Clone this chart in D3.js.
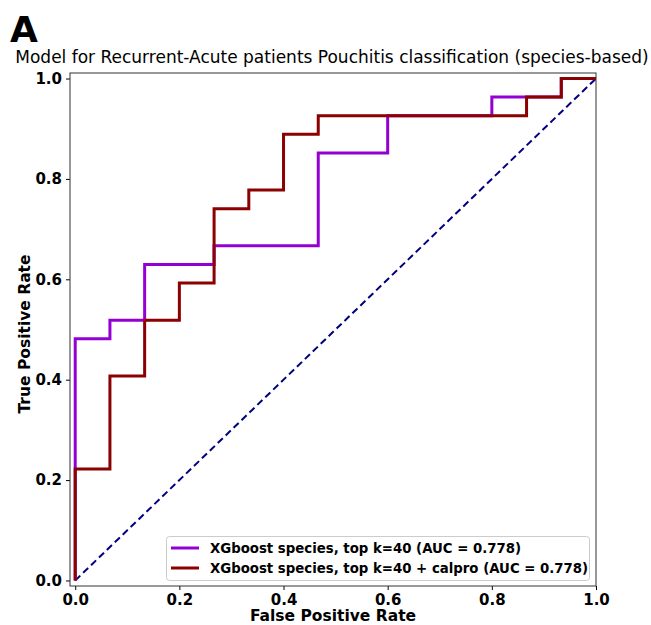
<!DOCTYPE html>
<html><head><meta charset="utf-8">
<script src="https://cdn.jsdelivr.net/npm/d3@7"></script>
<style>body{margin:0;background:#fff;} svg{display:block;font-family:"DejaVu Sans",sans-serif;}</style>
</head><body>
<svg id="chart" width="651" height="625"></svg>
<script>
const panelLabel = "A";
const title = "Model for Recurrent-Acute patients Pouchitis classification (species-based)";
const xLabel = "False Positive Rate";
const yLabel = "True Positive Rate";
const ticks = [0, 0.2, 0.4, 0.6, 0.8, 1.0];
const seriesNames = ["XGboost species, top k=40 (AUC = 0.778)", "XGboost species, top k=40 + calpro (AUC = 0.778)"];
const seriesColors = ["#9400d3", "#8b0000"];
// ROC points (FPR, TPR)
const fprSpecies = [0, 0, 1/15, 1/15, 2/15, 2/15, 4/15, 4/15, 7/15, 7/15, 9/15, 9/15, 12/15, 12/15, 13/15, 14/15, 14/15, 1];
const tprSpecies = [0, 13/27, 13/27, 14/27, 14/27, 17/27, 17/27, 18/27, 18/27, 23/27, 23/27, 25/27, 25/27, 26/27, 26/27, 26/27, 1, 1];
const fprCalpro = [0, 0, 1/15, 1/15, 2/15, 2/15, 3/15, 3/15, 4/15, 4/15, 5/15, 5/15, 6/15, 6/15, 7/15, 7/15, 13/15, 13/15, 14/15, 14/15, 1];
const tprCalpro = [0, 6/27, 6/27, 11/27, 11/27, 14/27, 14/27, 16/27, 16/27, 20/27, 20/27, 21/27, 21/27, 24/27, 24/27, 25/27, 25/27, 26/27, 26/27, 1, 1];

const svg = d3.select("#chart");
const L = 70, R = 596, T = 73, B = 586;
const x = d3.scaleLinear().domain([-0.01, 1.0]).range([L, R]);
const y = d3.scaleLinear().domain([-0.011, 1.011]).range([B, T]);

svg.append("text").attr("x", 10).attr("y", 42).attr("font-size", 36).attr("font-weight", "bold").text(panelLabel);
const t = svg.append("text").attr("x", 332).attr("y", 63).attr("text-anchor", "middle").attr("font-size", 17).text(title);
const tw = t.node().getComputedTextLength();
if (tw > 634) t.attr("textLength", 634).attr("lengthAdjust", "spacingAndGlyphs");

// diagonal
svg.append("line").attr("x1", x(0)).attr("y1", y(0)).attr("x2", x(1)).attr("y2", y(1))
  .attr("stroke", "#000080").attr("stroke-width", 2).attr("stroke-dasharray", "7,4");

const line = d3.line().x(d => x(d[0])).y(d => y(d[1]));
const series = [d3.zip(fprSpecies, tprSpecies), d3.zip(fprCalpro, tprCalpro)];
series.forEach((s, i) => {
  svg.append("path").attr("d", line(s)).attr("fill", "none").attr("stroke", seriesColors[i]).attr("stroke-width", 3);
});

// axes
const xAxis = svg.append("g").attr("transform", `translate(0,${B})`)
  .call(d3.axisBottom(x).tickValues(ticks).tickFormat(d3.format(".1f")).tickSize(4).tickPadding(4));
const yAxis = svg.append("g").attr("transform", `translate(${L},0)`)
  .call(d3.axisLeft(y).tickValues(ticks).tickFormat(d3.format(".1f")).tickSize(4).tickPadding(4));
[xAxis, yAxis].forEach(a => {
  a.select(".domain").remove();
  a.selectAll("text").attr("font-size", 15).attr("font-weight", "bold").attr("fill", "#000").attr("font-family", "DejaVu Sans");
  a.selectAll("line").attr("stroke", "#000");
});
svg.append("rect").attr("x", L).attr("y", T).attr("width", R - L).attr("height", B - T)
  .attr("fill", "none").attr("stroke", "#333").attr("stroke-width", 1);

svg.append("text").attr("x", 333).attr("y", 621).attr("text-anchor", "middle").attr("font-size", 15.5).attr("font-weight", "bold").text(xLabel);
svg.append("text").attr("transform", "translate(30,334) rotate(-90)").attr("text-anchor", "middle").attr("font-size", 15.5).attr("font-weight", "bold").text(yLabel);

// legend
const lg = svg.append("g");
lg.append("rect").attr("x", 166.5).attr("y", 536.5).attr("width", 423).attr("height", 44).attr("rx", 3)
  .attr("fill", "#fff").attr("fill-opacity", 0.8).attr("stroke", "#ccc");
seriesNames.forEach((n, i) => {
  const yy = 548 + i * 20;
  lg.append("line").attr("x1", 171).attr("x2", 199).attr("y1", yy).attr("y2", yy).attr("stroke", seriesColors[i]).attr("stroke-width", 3);
  lg.append("text").attr("x", 210).attr("y", yy + 5).attr("font-size", 13.3).attr("font-weight", "bold").text(n);
});
</script>
</body></html>
